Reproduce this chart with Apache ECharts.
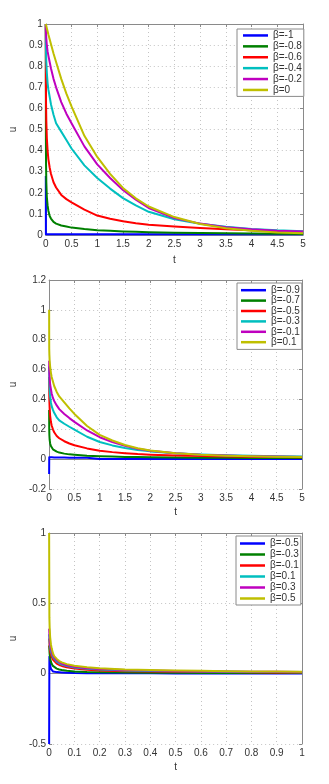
<!DOCTYPE html>
<html>
<head>
<meta charset="utf-8">
<script src="https://cdn.jsdelivr.net/npm/echarts@6/dist/echarts.min.js"></script>
<style>
  html, body { margin: 0; padding: 0; background: #fff; }
  #main { width: 329px; height: 784px; }
</style>
</head>
<body>
<div id="main"></div>
<script>
// line colours, same order in all three panels
var colors = ['#0000ff', '#008000', '#ff0000', '#00bfbf', '#bf00bf', '#bfbf00'];

// panel 1 and 2 share the same t samples (0..5)
var tA = [0, 0.002, 0.005, 0.01, 0.02, 0.035, 0.05, 0.075, 0.1, 0.15, 0.2, 0.3, 0.4, 0.5,
  0.75, 1, 1.25, 1.5, 1.75, 2, 2.5, 3, 3.5, 4, 4.5, 5];

// panel 1
var names1 = ['β=-1', 'β=-0.8', 'β=-0.6', 'β=-0.4', 'β=-0.2', 'β=0'];
var u1_b = [0.28, 0.003, 0.003, 0.003, 0.003, 0.003, 0.003, 0.003, 0.003, 0.003, 0.003, 0.003, 0.003, 0.003,
  0.003, 0.003, 0.003, 0.003, 0.003, 0.003, 0.003, 0.003, 0.003, 0.003, 0.003, 0.003];
var u1_g = [1, 0.45, 0.33, 0.25, 0.18, 0.14, 0.115, 0.09, 0.078, 0.062, 0.054, 0.045, 0.04, 0.035,
  0.028, 0.023, 0.02, 0.017, 0.015, 0.013, 0.011, 0.009, 0.008, 0.007, 0.006, 0.005];
var u1_r = [1, 0.72, 0.62, 0.54, 0.46, 0.4, 0.36, 0.32, 0.29, 0.25, 0.225, 0.19, 0.17, 0.155,
  0.12, 0.092, 0.077, 0.065, 0.056, 0.049, 0.04, 0.033, 0.027, 0.022, 0.018, 0.015];
var u1_c = [1, 0.9, 0.86, 0.82, 0.77, 0.72, 0.69, 0.655, 0.62, 0.57, 0.53, 0.49, 0.45, 0.41,
  0.33, 0.27, 0.22, 0.175, 0.14, 0.11, 0.075, 0.053, 0.039, 0.029, 0.022, 0.018];
var u1_m = [1, 0.97, 0.95, 0.93, 0.9, 0.87, 0.85, 0.82, 0.79, 0.74, 0.7, 0.63, 0.575, 0.53,
  0.42, 0.335, 0.27, 0.213, 0.167, 0.128, 0.08, 0.054, 0.037, 0.027, 0.02, 0.016];
var u1_y = [1, 0.998, 0.995, 0.99, 0.98, 0.966, 0.95, 0.928, 0.905, 0.86, 0.82, 0.74, 0.67, 0.61,
  0.47, 0.37, 0.29, 0.223, 0.174, 0.135, 0.085, 0.052, 0.032, 0.02, 0.012, 0.008];

// panel 2
var names2 = ['β=-0.9', 'β=-0.7', 'β=-0.5', 'β=-0.3', 'β=-0.1', 'β=0.1'];
var u2_b = [-0.1, 0.012, 0.012, 0.012, 0.012, 0.012, 0.012, 0.011, 0.011, 0.011, 0.011, 0.011, 0.01, 0.01,
  0.009, 0.001, 0.001, 0.001, 0.001, 0.001, 0.001, 0.001, 0.001, 0.001, 0.001, 0.001];
var u2_g = [0.33, 0.2, 0.16, 0.13, 0.105, 0.088, 0.077, 0.066, 0.058, 0.05, 0.044, 0.037, 0.032, 0.029,
  0.023, 0.02, 0.017, 0.015, 0.014, 0.013, 0.011, 0.01, 0.009, 0.008, 0.007, 0.007];
var u2_r = [0.55, 0.45, 0.39, 0.34, 0.29, 0.25, 0.225, 0.2, 0.18, 0.155, 0.14, 0.12, 0.105, 0.093,
  0.072, 0.056, 0.047, 0.04, 0.034, 0.03, 0.025, 0.021, 0.018, 0.016, 0.014, 0.012];
var u2_c = [0.62, 0.55, 0.5, 0.46, 0.42, 0.38, 0.355, 0.33, 0.31, 0.28, 0.26, 0.237, 0.217, 0.198,
  0.15, 0.115, 0.092, 0.075, 0.062, 0.052, 0.039, 0.031, 0.026, 0.022, 0.02, 0.018];
var u2_m = [0.66, 0.6, 0.57, 0.54, 0.5, 0.47, 0.44, 0.41, 0.39, 0.36, 0.335, 0.303, 0.275, 0.25,
  0.192, 0.147, 0.114, 0.089, 0.07, 0.056, 0.04, 0.03, 0.024, 0.02, 0.017, 0.015];
var u2_y = [1, 0.74, 0.7, 0.66, 0.62, 0.58, 0.55, 0.52, 0.49, 0.45, 0.42, 0.38, 0.34, 0.303,
  0.222, 0.163, 0.125, 0.095, 0.073, 0.058, 0.04, 0.029, 0.023, 0.019, 0.016, 0.014];

// panel 3, t from 0 to 1
var tB = [0, 0.001, 0.002, 0.004, 0.007, 0.01, 0.015, 0.02, 0.03, 0.04, 0.05, 0.07, 0.1, 0.15,
  0.2, 0.3, 0.4, 0.5, 0.6, 0.7, 0.8, 0.9, 1];
var names3 = ['β=-0.5', 'β=-0.3', 'β=-0.1', 'β=0.1', 'β=0.3', 'β=0.5'];
var u3_b = [-0.5, 0.12, 0.1, 0.06, 0.035, 0.022, 0.016, 0.013, 0.011, 0.01, 0.009, 0.006, 0.004, 0.003,
  0.003, 0.003, 0.003, 0.002, 0.002, 0.002, 0.002, 0.002, 0.002];
var u3_g = [0.2, 0.17, 0.14, 0.11, 0.085, 0.07, 0.055, 0.046, 0.036, 0.03, 0.026, 0.021, 0.016, 0.012,
  0.01, 0.008, 0.007, 0.006, 0.005, 0.005, 0.004, 0.004, 0.004];
var u3_r = [0.25, 0.22, 0.19, 0.16, 0.135, 0.12, 0.1, 0.088, 0.072, 0.062, 0.055, 0.045, 0.036, 0.028,
  0.023, 0.018, 0.015, 0.013, 0.012, 0.011, 0.01, 0.009, 0.008];
var u3_c = [0.28, 0.25, 0.22, 0.19, 0.16, 0.14, 0.118, 0.104, 0.086, 0.074, 0.065, 0.054, 0.044, 0.035,
  0.029, 0.023, 0.019, 0.017, 0.015, 0.013, 0.012, 0.011, 0.01];
var u3_m = [0.32, 0.28, 0.25, 0.21, 0.18, 0.155, 0.13, 0.115, 0.095, 0.082, 0.072, 0.06, 0.049, 0.039,
  0.033, 0.026, 0.022, 0.019, 0.017, 0.015, 0.014, 0.013, 0.012];
var u3_y = [1, 0.4, 0.33, 0.26, 0.21, 0.18, 0.145, 0.125, 0.105, 0.09, 0.08, 0.068, 0.056, 0.045,
  0.038, 0.03, 0.026, 0.022, 0.02, 0.018, 0.016, 0.015, 0.014];

var panels = [
  { t: tA, names: names1, u: [u1_b, u1_g, u1_r, u1_c, u1_m, u1_y] },
  { t: tA, names: names2, u: [u2_b, u2_g, u2_r, u2_c, u2_m, u2_y] },
  { t: tB, names: names3, u: [u3_b, u3_g, u3_r, u3_c, u3_m, u3_y] }
];

var FONT = 'Liberation Sans';
var TXT = '#333';
var FRAME = '#8a8a8a';

function zip(t, u) {
  var out = [];
  for (var i = 0; i < t.length; i++) out.push([t[i], u[i]]);
  return out;
}

var grids = [
  { left: 35, top: 24, width: 268, height: 211 },
  { left: 35, top: 280, width: 267, height: 209 },
  { left: 32, top: 533, width: 270, height: 211 }
];
var xRanges = [[0, 5, 0.5], [0, 5, 0.5], [0, 1, 0.1]];
var yRanges = [[0, 1, 0.1], [-0.2, 1.2, 0.2], [-0.5, 1, 0.5]];
var legendPos = [
  { left: 237, top: 29, padding: [1, 2, 1, 6], lh: 10.9 },
  { left: 237, top: 283, padding: [2, 2, 2, 4], lh: 10.4 },
  { left: 236, top: 536, padding: [2, 2, 1, 4], lh: 11 }
];

var xAxes = [], yAxes = [], series = [], legends = [];

grids.forEach(function (g, k) {
  var xr = xRanges[k], yr = yRanges[k];
  // bottom / left axes with labels
  xAxes.push({
    type: 'value', gridIndex: k, min: xr[0], max: xr[1], interval: xr[2],
    name: 't', nameLocation: 'middle', nameGap: k === 0 ? 20 : 18,
    nameTextStyle: { color: TXT, fontFamily: FONT, fontSize: 10 },
    axisLine: { show: true, lineStyle: { color: FRAME } },
    axisTick: { inside: true, length: 3, lineStyle: { color: FRAME } },
    axisLabel: { color: TXT, fontFamily: FONT, fontSize: 10, margin: 4 },
    splitLine: { show: true, lineStyle: { color: '#c4c4c4', type: [1, 3] } }
  });
  yAxes.push({
    type: 'value', gridIndex: k, min: yr[0], max: yr[1], interval: yr[2],
    name: 'u', nameLocation: 'middle', nameGap: k === 2 ? 17 : 20,
    nameTextStyle: { color: TXT, fontFamily: FONT, fontSize: 10 },
    axisLine: { show: true, lineStyle: { color: FRAME } },
    axisTick: { inside: true, length: 3, lineStyle: { color: FRAME } },
    axisLabel: { color: TXT, fontFamily: FONT, fontSize: 10, margin: 3 },
    splitLine: { show: true, lineStyle: { color: '#c4c4c4', type: [1, 3] } }
  });
  // top / right axes just close the box
  xAxes.push({
    type: 'value', gridIndex: k, position: 'top', min: xr[0], max: xr[1], interval: xr[2],
    axisLine: { show: true, onZero: false, lineStyle: { color: FRAME } },
    axisTick: { inside: true, length: 3, lineStyle: { color: FRAME } },
    axisLabel: { show: false }, splitLine: { show: false }
  });
  yAxes.push({
    type: 'value', gridIndex: k, position: 'right', min: yr[0], max: yr[1], interval: yr[2],
    axisLine: { show: true, onZero: false, lineStyle: { color: FRAME } },
    axisTick: { inside: true, length: 3, lineStyle: { color: FRAME } },
    axisLabel: { show: false }, splitLine: { show: false }
  });

  var p = panels[k];
  var legendData = [];
  p.u.forEach(function (u, j) {
    var id = p.names[j] + '#' + k;
    legendData.push(id);
    series.push({
      type: 'line', name: id, xAxisIndex: k * 2, yAxisIndex: k * 2,
      data: zip(p.t, u), showSymbol: false, symbol: 'none',
      clip: true,
      color: colors[j],
      lineStyle: { color: colors[j], width: 2, join: 'round' },
      z: 2 + j
    });
  });

  var lp = legendPos[k];
  legends.push({
    data: legendData, orient: 'vertical', left: lp.left, top: lp.top,
    padding: lp.padding, itemGap: 0, itemWidth: 25, itemHeight: 2.5, itemTextGap: 2,
    icon: 'rect', backgroundColor: '#fff', borderColor: FRAME, borderWidth: 1,
    selectedMode: false,
    formatter: function (name) { return name.split('#')[0]; },
    textStyle: { color: TXT, fontFamily: FONT, fontSize: 10, lineHeight: lp.lh }
  });
});

var chart = echarts.init(document.getElementById('main'), null, { renderer: 'canvas' });
chart.setOption({
  backgroundColor: '#fff',
  animation: false,
  grid: grids,
  xAxis: xAxes,
  yAxis: yAxes,
  legend: legends,
  series: series
});
</script>
</body>
</html>
